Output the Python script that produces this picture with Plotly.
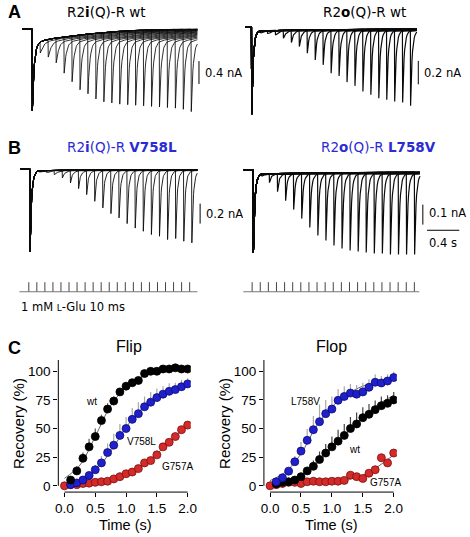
import numpy as np
import plotly.graph_objects as go

W, H = 470, 537

# ---------------- DATA ----------------
# paired-pulse intervals (s)
pulse_intervals = [0.1, 0.2, 0.3, 0.4, 0.5, 0.6, 0.7, 0.8, 0.9, 1.0,
                   1.1, 1.2, 1.3, 1.4, 1.5, 1.6, 1.7, 1.8, 1.9, 2.0]
stim_times = [0.0] + pulse_intervals

# A left: R2i(Q)-R wt  (current, nA)
ai_first_peak = -1.42
ai_second_peaks = [-0.42, -0.49, -0.59, -0.77, -0.92, -1.06, -1.13, -1.22, -1.27, -1.29,
                   -1.31, -1.32, -1.33, -1.34, -1.35, -1.36, -1.37, -1.38, -1.40, -1.44]
ai_resid_t = [0.0, 0.03, 0.06, 0.1, 0.2, 0.3, 0.5, 0.8, 1.2, 1.6, 2.2]
ai_resid_v = [-0.40, -0.33, -0.26, -0.22, -0.18, -0.16, -0.12, -0.075, -0.03, -0.01, 0.0]

# A right: R2o(Q)-R wt
ao_first_peak = -0.74
ao_second_peaks = [-0.040, -0.050, -0.064, -0.092, -0.129, -0.163, -0.220, -0.277, -0.319, -0.390,
                   -0.413, -0.466, -0.498, -0.546, -0.574, -0.603, -0.617, -0.631, -0.640, -0.668]
ao_resid_t = [0.0, 0.03, 0.08, 0.3, 1.0, 2.2]
ao_resid_v = [-0.07, -0.05, -0.03, -0.025, -0.02, -0.01]

# B left: R2i(Q)-R V758L
bi_first_peak = -0.827
bi_second_peaks = [-0.025, -0.035, -0.060, -0.093, -0.143, -0.200, -0.260, -0.327, -0.393, -0.450,
                   -0.493, -0.550, -0.595, -0.627, -0.660, -0.677, -0.710, -0.700, -0.727, -0.743]
bi_resid_t = [0.0, 0.03, 0.1, 0.5, 2.2]
bi_resid_v = [-0.06, -0.04, -0.02, -0.015, -0.01]

# B right: R2o(Q)-R L758V
bo_first_peak = -0.417
bo_second_peaks = [-0.030, -0.065, -0.110, -0.155, -0.200, -0.245, -0.290, -0.330, -0.355, -0.380,
                   -0.395, -0.405, -0.410, -0.415, -0.420, -0.420, -0.425, -0.425, -0.425, -0.425]
bo_resid_t = [0.0, 0.03, 0.1, 1.0, 2.2]
bo_resid_v = [-0.05, -0.03, -0.02, -0.018, -0.01]

# C: recovery (%) vs time (s)
rec_time = [0.0, 0.1, 0.2, 0.3, 0.4, 0.5, 0.6, 0.7, 0.8, 0.9, 1.0,
            1.1, 1.2, 1.3, 1.4, 1.5, 1.6, 1.7, 1.8, 1.9, 2.0]
flip_wt = [None, 5, 13, 24, 34, 43, 57, 67, 74, 82, 87, 90, 92, 98, 100, 100, 102, 102, 103, 102, 102]
flip_wt_err = [0, 3, 4, 5, 7, 7, 5, 5, 4, 3, 2, 2, 2, 1, 1, 1, 1, 1, 1, 1, 1]
flip_v758l = [None, 1, 2.5, 5, 9, 14, 20, 29, 35.5, 44, 50, 58, 63, 69, 73, 77, 80, 82.5, 84, 86.5, 89]
flip_v758l_err = [0, 1, 1, 2, 3, 4, 6, 8, 10, 10, 10, 10, 10, 9, 9, 8, 7, 7, 6, 6, 5]
flip_g757a = [0, 1, 1, 2, 2.3, 3, 3.5, 4, 6, 8, 10.5, 12, 15, 20, 22, 27, 34, 38, 43, 49, 53]
flip_g757a_err = [0, 1, 1, 1, 1, 1, 1, 1, 1, 1, 1, 1, 1, 2, 2, 2, 2, 2, 2, 2, 2]

flop_wt = [None, 1.7, 3, 3.5, 5, 8, 13, 17, 23, 28.6, 34, 39, 44, 50, 54, 59.5, 62.4, 66.5, 70, 72, 75]
flop_wt_err = [0, 1, 1, 1, 2, 2, 3, 5, 7, 8, 9, 10, 10, 10, 10, 9, 9, 8, 8, 7, 7]
flop_l758v = [None, 3.5, 7, 12.8, 21, 30.3, 39.7, 49, 56, 63, 67, 74.6, 78, 81, 80, 82, 86, 90.4, 89.8, 91.5, 94.5]
flop_l758v_err = [0, 1, 2, 3, 5, 8, 10, 12, 15, 12, 11, 10, 9, 8, 8, 8, 7, 7, 6, 6, 5]
flop_g757a = [0, 1, 2, 3, 3, 2, 3.5, 4, 3.5, 3.5, 4, 4, 4.7, 9.3, 8, 6.4, 11, 14, 24.5, 20, 28.6]
flop_g757a_err = [0, 1, 1, 1, 1, 1, 1, 1, 1, 1, 1, 1, 1, 2, 2, 2, 2, 3, 3, 3, 3]

# fitted curves
fit_time = [0.0, 0.25, 0.5, 0.75, 1.0, 1.25, 1.5, 1.75, 2.0]
flip_wt_fit = [6.5, 18, 43, 70, 86, 95, 99, 101, 101.5]
flip_v758l_fit = [1.5, 4, 13, 30, 51, 67, 77, 83, 87]
flip_g757a_fit = [0.5, 1.5, 3, 5.5, 10.5, 18, 28, 40, 53]
flop_l758v_fit = [4.5, 12, 28, 52, 69, 80, 87, 90.5, 92.5]
flop_wt_fit = [3, 5, 9, 19, 33, 47, 60, 71, 79]
flop_g757a_fit = [1, 1.5, 2, 2.5, 3.5, 5.5, 9, 17, 27]

# ---------------- helpers ----------------
BLACK = "#000000"
BLUE = "#1f1fcc"
RED = "#d42a2a"
TXT_BLUE = "#2b2bd6"
SANS = "DejaVu Sans, Verdana, sans-serif"
HELV = "Liberation Sans, Arial, Helvetica, sans-serif"

fig = go.Figure()
layout = dict(width=W, height=H, margin=dict(l=0, r=0, t=0, b=0, pad=0), autosize=False,
              paper_bgcolor="white", plot_bgcolor="rgba(0,0,0,0)", showlegend=False,
              hovermode=False)


def ax_name(kind, i):
    return kind + ("" if i == 1 else str(i))


def trace_axes(i, box, t0_px, pps, base_px, ppn):
    l, r, t, b = box
    layout[ax_name("xaxis", i)] = dict(domain=[l / W, r / W],
                                       range=[(l - t0_px) / pps, (r - t0_px) / pps],
                                       visible=False, anchor=ax_name("y", i), fixedrange=True)
    layout[ax_name("yaxis", i)] = dict(domain=[1 - b / H, 1 - t / H],
                                       range=[-(b - base_px) / ppn, (base_px - t) / ppn],
                                       visible=False, anchor=ax_name("x", i), fixedrange=True)


def sweep(onsets, peaks, rt, rv, t_start, t_end, rise=0.003, tau=0.015):
    pts = set(np.round(np.arange(t_start, t_end, 0.01), 5).tolist())
    pts.add(round(t_end, 5))
    for o in onsets:
        for d in [-0.0005, 0.0, rise] + [rise + tau * f for f in
                                         (0.1, 0.25, 0.45, 0.7, 1.0, 1.4, 1.9, 2.6, 3.5, 5, 7, 10)]:
            g = round(o + d, 5)
            if t_start <= g <= t_end:
                pts.add(g)
    ts = sorted(pts)

    def level(g, j):
        o, P = onsets[j], peaks[j]
        if g < o + rise:
            prev = 0.0 if j == 0 else level(o, j - 1)
            return prev + (P - prev) * (g - o) / rise
        return float(np.interp(g - o, rt, rv)) + (P - float(np.interp(rise, rt, rv))) * np.exp(-(g - o - rise) / tau)

    vals = []
    for g in ts:
        if g < onsets[0]:
            vals.append(0.0)
        else:
            j = max(k for k in range(len(onsets)) if onsets[k] <= g)
            vals.append(level(g, j))
    return ts, vals


def panel_traces(i, first_peak, second_peaks, rt, rv, t_start, t_end, tau, width):
    xs, ys = [], []
    for iv, pk in zip(pulse_intervals, second_peaks):
        t, v = sweep([0.0, iv], [first_peak, pk], rt, rv, t_start, t_end, tau=tau)
        xs += t + [None]
        ys += v + [None]
    fig.add_trace(go.Scatter(x=xs, y=ys, mode="lines", line=dict(color="#0a0a0a", width=width),
                             xaxis=ax_name("x", i), yaxis=ax_name("y", i), hoverinfo="skip"))


shapes = []
annotations = []


def ann(text, x, y, size, xanchor="center", yanchor="middle", color=BLACK, family=SANS, angle=0):
    annotations.append(dict(text=text, x=x / W, y=1 - y / H, xref="paper", yref="paper",
                            xanchor=xanchor, yanchor=yanchor, showarrow=False, textangle=angle,
                            font=dict(size=size, color=color, family=family)))


def vbar(i, t, y0, y1):
    shapes.append(dict(type="line", xref=ax_name("x", i), yref=ax_name("y", i), x0=t, x1=t, y0=y0, y1=y1,
                       line=dict(color=BLACK, width=1)))


def hbar(i, t0, t1, y):
    shapes.append(dict(type="line", xref=ax_name("x", i), yref=ax_name("y", i), x0=t0, x1=t1, y0=y, y1=y,
                       line=dict(color=BLACK, width=1)))


# ---------------- A / B traces ----------------
trace_axes(1, (12, 214, 18, 120), 29.7, 81.0, 29.0, 57.5)
trace_axes(2, (238, 470, 18, 122), 253.3, 81.0, 27.5, 117.5)
trace_axes(3, (10, 214, 158, 262), 27.3, 82.5, 169.0, 100.0)
trace_axes(4, (238, 470, 158, 262), 255.0, 82.2, 170.0, 200.0)

panel_traces(1, ai_first_peak, ai_second_peaks, ai_resid_t, ai_resid_v, -0.12, 2.08, 0.02, 0.85)
panel_traces(2, ao_first_peak, ao_second_peaks, ao_resid_t, ao_resid_v, -0.08, 2.08, 0.018, 1.2)
panel_traces(3, bi_first_peak, bi_second_peaks, bi_resid_t, bi_resid_v, -0.116, 2.07, 0.018, 0.9)
panel_traces(4, bo_first_peak, bo_second_peaks, bo_resid_t, bo_resid_v, -0.12, 2.07, 0.018, 1.2)

# scale bars
vbar(1, 2.10, -0.56, -0.96)
vbar(2, 2.10, -0.285, -0.485)
vbar(3, 2.105, -0.35, -0.55)
vbar(4, 2.105, -0.175, -0.275)
hbar(4, 2.157, 2.557, -0.3035)

ann("0.4 nA", 204, 73, 11.5, xanchor="left")
ann("0.2 nA", 427, 73, 11.5, xanchor="left")
ann("0.2 nA", 205, 214, 11.5, xanchor="left")
ann("0.1 nA", 432, 213, 11.5, xanchor="left")
ann("0.4 s", 449, 243, 11.5)

# ---------------- stimulus rows ----------------
trace_axes(5, (10, 214, 278, 296), 26.3, 82.0, 292.3, 9.6)
trace_axes(6, (238, 470, 278, 296), 254.0, 82.7, 292.3, 9.6)
for i, (a, b) in zip((5, 6), ((-0.117, 2.097), (-0.109, 2.06))):
    xs, ys = [], []
    for s in stim_times:
        xs += [s, s, None]
        ys += [0, 1, None]
    fig.add_trace(go.Scatter(x=xs, y=ys, mode="lines", line=dict(color="#444444", width=1),
                             xaxis=ax_name("x", i), yaxis=ax_name("y", i), hoverinfo="skip"))
    fig.add_trace(go.Scatter(x=[a, b], y=[0, 0], mode="lines", line=dict(color="#777777", width=1),
                             xaxis=ax_name("x", i), yaxis=ax_name("y", i), hoverinfo="skip"))

ann("1 mM <span style='font-size:9px'>L</span>-Glu 10 ms", 16, 308, 11.5, xanchor="left")

# ---------------- titles / panel letters ----------------
ann("R2<b>i</b>(Q)-R wt", 63, 12, 13.5, xanchor="left")
ann("R2<b>o</b>(Q)-R wt", 324, 12, 13.5, xanchor="left")
ann("R2<b>i</b>(Q)-R <b>V758L</b>", 63, 147, 13.5, xanchor="left", color=TXT_BLUE)
ann("R2<b>o</b>(Q)-R <b>L758V</b>", 322, 147, 13.5, xanchor="left", color=TXT_BLUE)
ann("<b>A</b>", 3, 12, 18, xanchor="left", family=HELV)
ann("<b>B</b>", 3, 148, 18, xanchor="left", family=HELV)
ann("<b>C</b>", 3, 349, 18, xanchor="left", family=HELV)

# ---------------- C: recovery plots ----------------
def chart_axes(i, l, r, t, b):
    layout[ax_name("xaxis", i)] = dict(
        domain=[l / W, r / W], range=[-0.1, 2.05], anchor=ax_name("y", i),
        tickvals=[0, 0.5, 1.0, 1.5, 2.0], ticktext=["0.0", "0.5", "1.0", "1.5", "2.0"],
        ticks="outside", ticklen=4, tickwidth=1, tickcolor=BLACK, showline=False,
        showgrid=False, zeroline=False, tickfont=dict(size=13.5, family=HELV, color=BLACK), fixedrange=True)
    layout[ax_name("yaxis", i)] = dict(
        domain=[1 - b / H, 1 - t / H], range=[-5.5, 110], anchor=ax_name("x", i),
        tickvals=[0, 25, 50, 75, 100], ticks="outside", ticklen=4, tickwidth=1, tickcolor=BLACK,
        showline=False, showgrid=False, zeroline=False,
        tickfont=dict(size=13.5, family=HELV, color=BLACK), fixedrange=True)
    shapes.append(dict(type="line", xref=ax_name("x", i), yref=ax_name("y", i) + " domain",
                       x0=0, x1=2.0, y0=0, y1=0, line=dict(color=BLACK, width=1)))
    shapes.append(dict(type="line", xref=ax_name("x", i) + " domain", yref=ax_name("y", i),
                       x0=0, x1=0, y0=0, y1=110, line=dict(color=BLACK, width=1)))


def series(i, y, err, color, edge, err_color):
    fig.add_trace(go.Scatter(
        x=rec_time, y=y, mode="markers",
        marker=dict(size=8, color=color, line=dict(color=edge, width=0.8)),
        error_y=dict(type="data", array=err, arrayminus=[0] * len(err), symmetric=False,
                     color=err_color, thickness=1.2, width=0),
        xaxis=ax_name("x", i), yaxis=ax_name("y", i), hoverinfo="skip"))


def fit(i, y):
    fig.add_trace(go.Scatter(x=fit_time, y=y, mode="lines", line=dict(color="#555555", width=0.9, shape="spline"),
                             xaxis=ax_name("x", i), yaxis=ax_name("y", i), hoverinfo="skip"))


chart_axes(7, 56.4, 191.4, 360.5, 493)
chart_axes(8, 266.0, 401.5, 360.5, 493)

for y in (flip_wt_fit, flip_v758l_fit, flip_g757a_fit):
    fit(7, y)
for y in (flop_l758v_fit, flop_wt_fit, flop_g757a_fit):
    fit(8, y)

series(7, flip_g757a, flip_g757a_err, RED, "#7a1010", "#b0b0b0")
series(7, flip_v758l, flip_v758l_err, BLUE, "#0c0c70", "#a8a8a8")
series(7, flip_wt, flip_wt_err, BLACK, BLACK, "#555555")
series(8, flop_g757a, flop_g757a_err, RED, "#7a1010", "#b0b0b0")
series(8, flop_wt, flop_wt_err, BLACK, BLACK, "#444444")
series(8, flop_l758v, flop_l758v_err, BLUE, "#0c0c70", "#a8a8a8")

ann("Flip", 128, 347, 16, family=HELV)
ann("Flop", 335, 347, 16, family=HELV)
ann("Recovery (%)", 15, 424, 15, family=HELV, angle=-90)
ann("Recovery (%)", 226, 424, 15, family=HELV, angle=-90)
ann("Time (s)", 125, 526, 14.5, family=HELV)
ann("Time (s)", 335, 526, 14.5, family=HELV)

ann("wt", 90, 402, 10, family=HELV)
ann("V758L", 141, 442, 10, family=HELV)
ann("G757A", 178, 467, 10, family=HELV)
ann("L758V", 308, 402, 10, family=HELV)
ann("wt", 358, 450, 10, family=HELV)
ann("G757A", 390, 483, 10, family=HELV)

layout["shapes"] = shapes
layout["annotations"] = annotations
fig.update_layout(**layout)
fig.write_html("out.html", config={"displayModeBar": False, "staticPlot": True},
               post_script="document.body.style.margin='0';document.body.style.padding='0';")
